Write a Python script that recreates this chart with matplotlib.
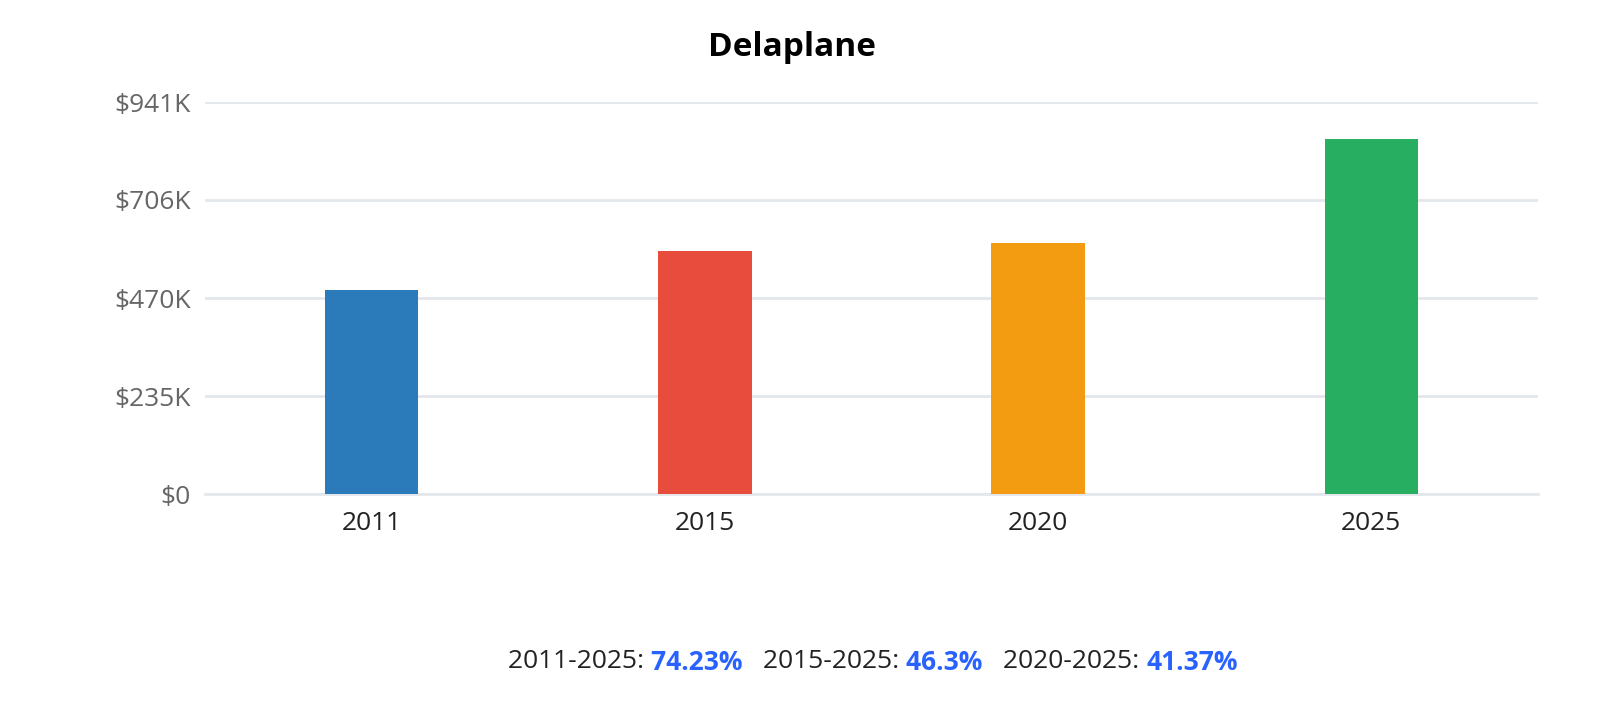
import matplotlib
matplotlib.use("Agg")
import matplotlib.pyplot as plt

years = ["2011", "2015", "2020", "2025"]
values = [490000, 583000, 603000, 853000]
colors = ["#2b7bba", "#e74c3c", "#f39c12", "#27ae60"]
yticks = [0, 235000, 470000, 706000, 941000]
ytick_labels = ["$0", "$235K", "$470K", "$706K", "$941K"]
changes = [("2011-2025: ", "74.23%"), ("2015-2025: ", "46.3%"), ("2020-2025: ", "41.37%")]

plt.rcParams["font.family"] = "Open Sans"
fig = plt.figure(figsize=(16, 7.15), dpi=100)
ax = fig.add_axes([205/1600, 1-494/715, 1333/1600, 392/715])
x = range(len(years))
ax.bar(x, values, width=0.28, color=colors, zorder=3)
ax.set_xlim(-0.5, 3.5)
ax.set_ylim(0, 941000)
ax.set_yticks(yticks)
ax.set_yticklabels(ytick_labels, fontsize=19, color="#666666")
ax.set_xticks(list(x))
ax.set_xticklabels(years, fontsize=19, color="#222222")
ax.tick_params(length=0, axis="both")
ax.tick_params(axis="x", pad=12)
ax.tick_params(axis="y", pad=10)
ax.grid(axis="y", color="#e3e7ec", linewidth=2, zorder=0)
for s in ["top", "right", "left"]:
    ax.spines[s].set_visible(False)
ax.spines["bottom"].set_color("#e3e7ec")
ax.spines["bottom"].set_linewidth(2)
fig.text(792/1600, 1-48/715, "Delaplane", ha="center", va="center", fontsize=24, fontweight="bold")

renderer = fig.canvas.get_renderer()
parts = []
for i, (lab, val) in enumerate(changes):
    parts.append((lab, "#222222", "normal"))
    parts.append((val + ("   " if i < len(changes) - 1 else ""), "#2962ff", "bold"))
texts = []
for s, c, w in parts:
    t = fig.text(0, 1-662/715, s, fontsize=19, color=c, fontweight=w, va="center")
    texts.append(t)
widths = [t.get_window_extent(renderer).width for t in texts]
total = sum(widths)
xpos = 873 - total/2
for t, w in zip(texts, widths):
    t.set_x(xpos/1600)
    xpos += w
fig.savefig("out.png", dpi=100)
